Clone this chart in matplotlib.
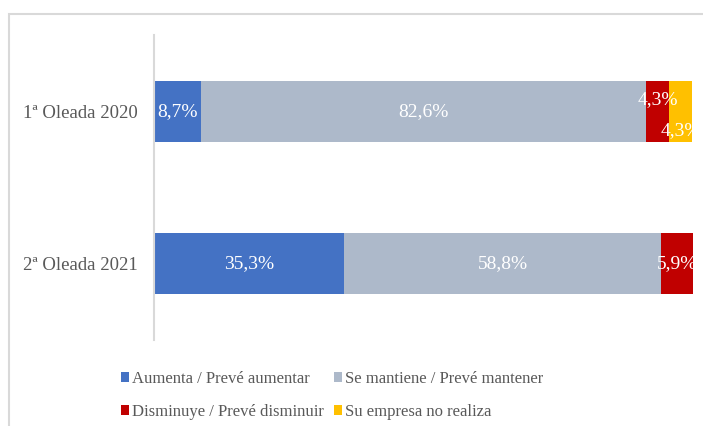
import matplotlib
matplotlib.use("Agg")
import matplotlib.pyplot as plt
from matplotlib.patches import Patch, Rectangle

plt.rcParams['font.family'] = ['Liberation Serif', 'DejaVu Serif']

oleadas = ['1ª Oleada 2020', '2ª Oleada 2021']
series = ['Aumenta / Prevé aumentar', 'Se mantiene / Prevé mantener',
          'Disminuye / Prevé disminuir', 'Su empresa no realiza']
aumenta = [8.7, 35.3]
mantiene = [82.6, 58.8]
disminuye = [4.3, 5.9]
no_realiza = [4.3, 0.0]

colores = ['#4472C4', '#ADB9CA', '#C00000', '#FFC000']
gris_texto = '#595959'

fig = plt.figure(figsize=(7.03, 4.26), dpi=100)
ax = fig.add_axes([154 / 703, 86 / 426, 539 / 703, 305 / 426])

valores = [aumenta, mantiene, disminuye, no_realiza]
y = list(range(len(oleadas)))
izquierda = [0.0] * len(oleadas)
# desplazamiento vertical de las etiquetas pequeñas para que no se pisen
desplaz = {(0, 2): -0.075, (0, 3): 0.13}
for s, (vals, col) in enumerate(zip(valores, colores)):
    ax.barh(y, vals, left=izquierda, height=0.4, color=col, label=series[s])
    for i, v in enumerate(vals):
        if v > 0:
            etiqueta = f'{v:.1f}%'.replace('.', ',')
            ax.text(izquierda[i] + v / 2, y[i] + desplaz.get((i, s), 0.0), etiqueta,
                    ha='center', va='center', color='white', fontsize=14,
                    clip_on=True)
    izquierda = [a + b for a, b in zip(izquierda, vals)]

ax.set_xlim(0, 100)
ax.set_ylim(-0.5, 1.5)
ax.invert_yaxis()
ax.set_yticks(y)
ax.set_yticklabels(oleadas, fontsize=13.5, color=gris_texto)
ax.tick_params(axis='y', length=0, pad=12)
ax.set_xticks([])
for lado in ['top', 'right', 'bottom']:
    ax.spines[lado].set_visible(False)
ax.spines['left'].set_color('#D9D9D9')
ax.spines['left'].set_linewidth(1.5)

# leyenda en dos filas
orden = [0, 2, 1, 3]
manejadores = [Patch(facecolor=colores[k], edgecolor='none') for k in orden]
fig.legend(manejadores, [series[k] for k in orden], ncol=2,
           loc='upper left', bbox_to_anchor=(121 / 703, 1 - 371 / 426),
           frameon=False, fontsize=12, labelcolor=gris_texto,
           handlelength=0.5, handleheight=0.5, handletextpad=0.15,
           columnspacing=0.6, labelspacing=1.0, borderpad=0, borderaxespad=0)

# marco del área del gráfico
fig.add_artist(Rectangle((8.5 / 703, -0.1), 1.0, 1.1 - 14 / 426,
                         transform=fig.transFigure, fill=False,
                         edgecolor='#D9D9D9', linewidth=1.5))

fig.savefig('out.png', dpi=100)
